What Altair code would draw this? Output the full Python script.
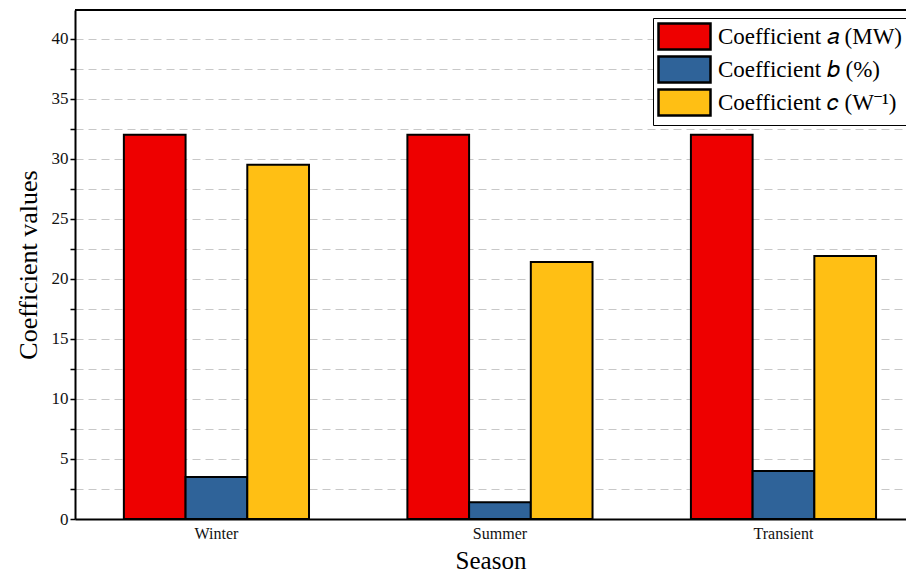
import altair as alt
import pandas as pd

seasons = ["Winter", "Summer", "Transient"]
series = ["Coefficient 𝑎 (MW)", "Coefficient 𝑏 (%)", "Coefficient 𝑐 (W⁻¹)"]
coef_a = [32.0, 32.0, 32.0]
coef_b = [3.5, 1.4, 4.0]
coef_c = [29.5, 21.4, 21.9]
colors = ["#EE0000", "#2F6399", "#FFBF14"]
y_ticks = [i * 2.5 for i in range(17)]

rows = []
for i, s in enumerate(seasons):
    for name, vals in zip(series, [coef_a, coef_b, coef_c]):
        rows.append({"Season": s, "Series": name, "Value": vals[i]})
df = pd.DataFrame(rows)

W, H = 831, 509
FONT = "Liberation Serif"

bars = alt.Chart(df).mark_bar(stroke="black", strokeWidth=2, opacity=1).encode(
    x=alt.X("Season:N", sort=seasons, title="Season",
            scale=alt.Scale(paddingInner=0.347, paddingOuter=0.139, align=0.62),
            axis=alt.Axis(labelAngle=0, ticks=False, labelFontSize=16, labelPadding=6,
                          titleFontSize=25, titleFontWeight="normal", titlePadding=7,
                          domainWidth=2, domainColor="black",
                          labelColor="#111", titleColor="black", grid=False)),
    xOffset=alt.XOffset("Series:N", sort=series, scale=alt.Scale(paddingInner=0, paddingOuter=0)),
    y=alt.Y("Value:Q", title="Coefficient values",
            scale=alt.Scale(domain=[0, 42.4], nice=False, zero=True),
            axis=alt.Axis(values=y_ticks,
                          labelExpr="datum.value % 5 == 0 ? datum.label : ''",
                          labelFontSize=17, labelColor="#111", tickColor="black", tickWidth=1.5,
                          tickSize=5, domainWidth=2, domainColor="black",
                          titleFontSize=26, titleFontWeight="normal", titleColor="black",
                          titlePadding=10,
                          grid=True, gridColor="#c8c8c8", gridDash=[8, 5], gridWidth=1)),
    color=alt.Color("Series:N", sort=series,
                    scale=alt.Scale(domain=series, range=colors),
                    legend=alt.Legend(title=None, orient="none", legendX=578, legendY=8,
                                      symbolType="M-1,-1H3V1H-1Z", symbolSize=676,
                                      symbolStrokeColor="black", symbolStrokeWidth=2.5,
                                      symbolOpacity=1, labelFontSize=23, labelColor="black",
                                      labelLimit=400, rowPadding=-7, padding=4,
                                      strokeColor="black", fillColor="white",
                                      labelOffset=32)),
)

top = alt.Chart(df).mark_rule(color="black", strokeWidth=2).encode(
    x=alt.value(0), x2=alt.value(W), y=alt.value(0)
)

chart = alt.layer(bars, top).properties(
    width=W, height=H,
    autosize=alt.AutoSizeParams(type="none"),
    padding={"left": 67, "top": 2, "right": 0, "bottom": 55},
).configure_view(stroke=None).configure(font=FONT)

chart.save("out.html", embed_options={"renderer": "svg", "actions": False})
